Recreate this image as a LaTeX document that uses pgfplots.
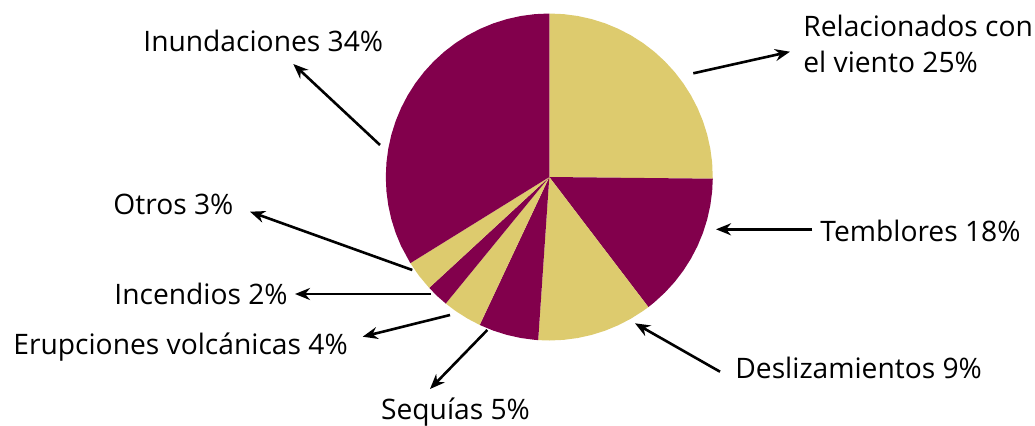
\documentclass[border=0pt]{standalone}
\usepackage{fontspec}
\setmainfont{Open Sans}
\usepackage{pgfplots}
\pgfplotsset{compat=1.18}
\usepgfplotslibrary{polar}
\usetikzlibrary{arrows.meta}
\definecolor{pgold}{RGB}{221,203,110}
\definecolor{pmaroon}{RGB}{130,0,76}
\begin{document}
\begin{tikzpicture}
\begin{axis}[name=ax, hide axis, x=0.5pt, y=0.5pt,
  xmin=-549.3, xmax=485.7, ymin=-248, ymax=177, clip=false,
  every axis plot/.append style={draw=none, data cs=polar}]
% Relacionados con el viento
\addplot[fill=pgold] coordinates {(0,0) (-0.6,163.5) (5,163.5) (10,163.5) (15,163.5) (20,163.5) (25,163.5) (30,163.5) (35,163.5) (40,163.5) (45,163.5) (50,163.5) (55,163.5) (60,163.5) (65,163.5) (70,163.5) (75,163.5) (80,163.5) (85,163.5) (90,163.5) (0,0)} -- cycle;
% Temblores
\addplot[fill=pmaroon] coordinates {(0,0) (-52.7,163.5) (-50,163.5) (-45,163.5) (-40,163.5) (-35,163.5) (-30,163.5) (-25,163.5) (-20,163.5) (-15,163.5) (-10,163.5) (-5,163.5) (-0.6,163.5) (0,0)} -- cycle;
% Deslizamientos
\addplot[fill=pgold] coordinates {(0,0) (-93.9,163.5) (-90,163.5) (-85,163.5) (-80,163.5) (-75,163.5) (-70,163.5) (-65,163.5) (-60,163.5) (-55,163.5) (-52.7,163.5) (0,0)} -- cycle;
% Sequias
\addplot[fill=pmaroon] coordinates {(0,0) (-115.2,163.5) (-110,163.5) (-105,163.5) (-100,163.5) (-95,163.5) (-93.9,163.5) (0,0)} -- cycle;
% Erupciones
\addplot[fill=pgold] coordinates {(0,0) (-129.3,163.5) (-125,163.5) (-120,163.5) (-115.2,163.5) (0,0)} -- cycle;
% Incendios
\addplot[fill=pmaroon] coordinates {(0,0) (-137.3,163.5) (-133,163.5) (-129.3,163.5) (0,0)} -- cycle;
% Otros
\addplot[fill=pgold] coordinates {(0,0) (-148.2,163.5) (-143,163.5) (-137.3,163.5) (0,0)} -- cycle;
% Inundaciones
\addplot[fill=pmaroon] coordinates {(0,0) (90,163.5) (95,163.5) (100,163.5) (105,163.5) (110,163.5) (115,163.5) (120,163.5) (125,163.5) (130,163.5) (135,163.5) (140,163.5) (145,163.5) (150,163.5) (155,163.5) (160,163.5) (165,163.5) (170,163.5) (175,163.5) (180,163.5) (185,163.5) (190,163.5) (195,163.5) (200,163.5) (205,163.5) (211.8,163.5) (0,0)} -- cycle;

% arrows
\begin{scope}[line width=1.3pt, -{Stealth[length=7.5pt,width=6pt]}]
\draw (axis cs:-169.3,32) -- (axis cs:-256,113);
\draw (axis cs:144,103.7) -- (axis cs:240.7,125.3);
\draw (axis cs:263,-52.3) -- (axis cs:166.7,-52.3);
\draw (axis cs:170.7,-194.7) -- (axis cs:85.7,-146.3);
\draw (axis cs:-137,-93) -- (axis cs:-299.3,-34.7);
\draw (axis cs:-118.3,-117) -- (axis cs:-254.3,-117);
\draw (axis cs:-99.3,-138) -- (axis cs:-186.6,-159.7);
\draw (axis cs:-62,-153) -- (axis cs:-119.3,-212);
\end{scope}

% labels
\begin{scope}[every node/.style={inner sep=0pt, anchor=base west, font=\fontsize{14.1}{17}\selectfont}]
\node at (axis cs:-406.3,126) {Inundaciones 34\%};
\node at (axis cs:253.7,141) {Relacionados con};
\node at (axis cs:253.7,104.3) {el viento 25\%};
\node at (axis cs:270.7,-64.7) {Temblores 18\%};
\node at (axis cs:185.7,-201) {Deslizamientos 9\%};
\node at (axis cs:-436.3,-37.3) {Otros 3\%};
\node at (axis cs:-435.3,-127) {Incendios 2\%};
\node at (axis cs:-536.3,-177.3) {Erupciones volcánicas 4\%};
\node at (axis cs:-168.6,-242) {Sequías 5\%};
\end{scope}
\end{axis}
\pgfresetboundingbox
\path (ax.south west) rectangle (ax.north east);
\end{tikzpicture}
\end{document}
